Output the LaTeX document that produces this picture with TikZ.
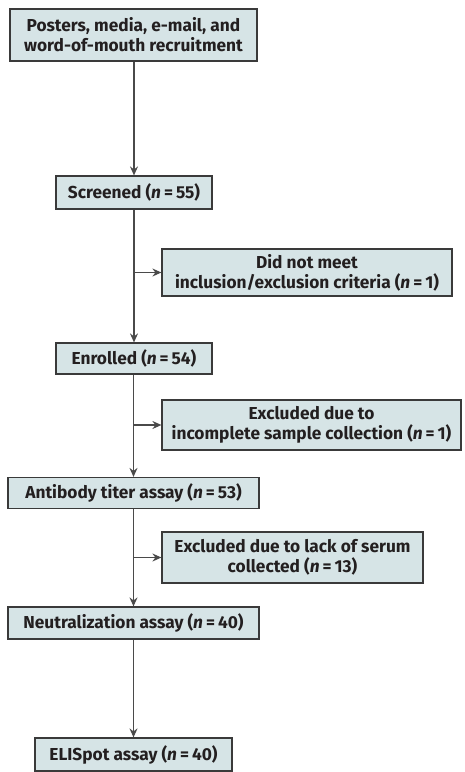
\documentclass[tikz,border=0pt]{standalone}
\usepackage{fontspec}
\setmainfont{Fira Sans}
\usetikzlibrary{arrows.meta}
\definecolor{boxfill}{HTML}{D6E4E6}
\definecolor{boxdraw}{HTML}{3A3A3A}
\definecolor{linec}{HTML}{4A4A4A}
\definecolor{txt}{HTML}{231F20}
\tikzset{
  fbox/.style={draw=boxdraw, fill=boxfill, line width=1.2pt, inner sep=0pt,
    align=center, text=txt, font=\fontsize{17.3}{20}\selectfont\bfseries},
  conn/.style={draw=linec, line width=1.2pt, -{Stealth[length=9pt,width=8pt,inset=3pt]}}
}
\newcommand{\nn}{\textit{n}\hspace{3pt}=\hspace{3pt}}
\begin{document}
\begin{tikzpicture}[x=1pt,y=-1pt]
\useasboundingbox (0,0) rectangle (465,772);
\node[fbox, minimum width=247pt, minimum height=52pt] (rec) at (133.5,35) {Posters, media, e-mail, and\\word-of-mouth recruitment};
\node[fbox, minimum width=156pt, minimum height=33pt] (scr) at (134,192.5) {Screened (\nn55)};
\node[fbox, minimum width=290pt, minimum height=47pt] (ex1) at (307,272.5) {Did not meet\\inclusion/exclusion criteria (\nn1)};
\node[fbox, minimum width=156pt, minimum height=31pt] (enr) at (134,358.5) {Enrolled (\nn54)};
\node[fbox, minimum width=299pt, minimum height=50pt] (ex2) at (311.5,425) {Excluded due to\\incomplete sample collection (\nn1)};
\node[fbox, minimum width=251pt, minimum height=31pt] (ab) at (133.5,493) {Antibody titer assay (\nn53)};
\node[fbox, minimum width=261pt, minimum height=51pt] (ex3) at (292.5,557.5) {Excluded due to lack of serum\\collected (\nn13)};
\node[fbox, minimum width=251pt, minimum height=32pt] (neu) at (133.5,623) {Neutralization assay (\nn40)};
\node[fbox, minimum width=197pt, minimum height=33pt] (eli) at (133.5,754.5) {ELISpot assay (\nn40)};
\draw[conn] (rec.south -| scr.north) -- (scr.north);
\draw[conn] (scr.south) -- (enr.north);
\draw[conn] (scr.south |- ex1.west) -- (ex1.west);
\draw[conn] (enr.south -| ab.north) -- (ab.north);
\draw[conn] (enr.south |- ex2.west) -- (ex2.west);
\draw[conn] (ab.south) -- (neu.north);
\draw[conn] (ab.south |- ex3.west) -- (ex3.west);
\draw[conn] (neu.south) -- (eli.north);
\end{tikzpicture}
\end{document}
